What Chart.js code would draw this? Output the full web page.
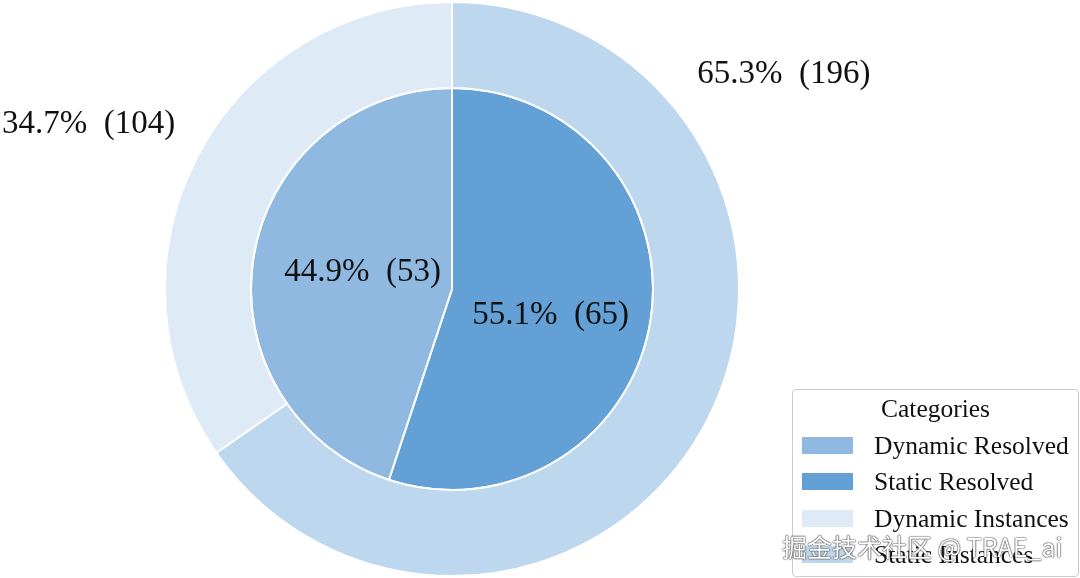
<!DOCTYPE html>
<html>
<head>
<meta charset="utf-8">
<script src="https://cdn.jsdelivr.net/npm/chart.js@4.4.1/dist/chart.umd.min.js"></script>
<style>
  html, body { margin: 0; padding: 0; background: #ffffff; }
  #wrap { position: relative; width: 1080px; height: 578px; overflow: hidden; }
  #c { position: absolute; left: 0; top: 0; }
  #legend {
    position: absolute; left: 792px; top: 389px; width: 285px; height: 186px;
    border: 1px solid #cccccc; border-radius: 4px; background: rgba(255,255,255,0.85);
    font-family: "Liberation Serif", "Times New Roman", serif; color: #111;
  }
  #legend .title { position: absolute; left: 0; width: 100%; top: 6px; text-align: center; font-size: 25.5px; line-height: 25px; }
  #legend .row { position: absolute; left: 9px; height: 36px; display: flex; align-items: center; }
  #legend .sw { width: 51px; height: 17px; margin-right: 21px; }
  #legend .lab { font-size: 25.5px; line-height: 25px; white-space: nowrap; }
  #wm {
    position: absolute; left: 782px; top: 529px; font-family: "Noto Sans CJK SC", sans-serif;
    font-size: 25px; line-height: 34px; color: #ffffff; white-space: pre;
    text-shadow: 0 0 1px #333, 0 0 1px #333, 0 0 2px #666;
  }
</style>
</head>
<body>
<div id="wrap">
  <canvas id="c" width="1080" height="578"></canvas>
  <div id="legend"></div>
  <div id="wm">掘金技术社区 @ TRAE_ai</div>
</div>
<script>
// ---- data ----
const outerLabels = ["Static Instances", "Dynamic Instances"];
const outerValues = [196, 104];
const innerLabels = ["Static Resolved", "Dynamic Resolved"];
const innerValues = [65, 53];
const outerColors = ["#bdd7ee", "#deeaf6"];
const innerColors = ["#62a0d6", "#8fb9e0"];
const legendTitle = "Categories";
const legendOrder = ["Dynamic Resolved", "Static Resolved", "Dynamic Instances", "Static Instances"];

// label placement: fraction along wedge angle, and radius factor relative to ring outer radius
const labelPlacement = [
  [{f: 0.243, r: 1.376}, {f: 0.474, r: 1.39}],   // outer ring
  [{f: 0.528, r: 0.507}, {f: 0.51, r: 0.453}]    // inner pie
];

const pctLabels = {
  id: 'pctLabels',
  afterDatasetsDraw(chart) {
    const ctx = chart.ctx;
    ctx.save();
    ctx.font = '33px "Liberation Serif", "Times New Roman", serif';
    ctx.fillStyle = '#111111';
    ctx.textAlign = 'center';
    ctx.textBaseline = 'middle';
    chart.data.datasets.forEach((ds, di) => {
      const meta = chart.getDatasetMeta(di);
      const total = ds.data.reduce((a, b) => a + b, 0);
      meta.data.forEach((arc, i) => {
        const p = arc.getProps(['x', 'y', 'startAngle', 'endAngle', 'outerRadius'], true);
        const pl = labelPlacement[di][i];
        const a = p.startAngle + pl.f * (p.endAngle - p.startAngle);
        const r = pl.r * p.outerRadius;
        const x = p.x + r * Math.cos(a);
        const y = p.y + r * Math.sin(a);
        const v = ds.data[i];
        const txt = (v / total * 100).toFixed(1) + '%  (' + v + ')';
        ctx.fillText(txt, x, y);
      });
    });
    ctx.restore();
  }
};

new Chart(document.getElementById('c'), {
  type: 'doughnut',
  data: {
    labels: outerLabels,
    datasets: [
      { label: 'Instances', data: outerValues, backgroundColor: outerColors, borderColor: '#ffffff', borderWidth: 2, weight: 86, hoverOffset: 0, offset: 0 },
      { label: 'Resolved', data: innerValues, backgroundColor: innerColors, borderColor: '#ffffff', borderWidth: 2, weight: 201, hoverOffset: 0, offset: 0 }
    ]
  },
  options: {
    responsive: false,
    animation: false,
    events: [],
    cutout: 0,
    layout: { padding: { left: 164, right: 340, top: 1, bottom: 1 } },
    plugins: { legend: { display: false }, tooltip: { enabled: false } }
  },
  plugins: [pctLabels]
});

// ---- legend (HTML) ----
const colorOf = {};
outerLabels.forEach((l, i) => colorOf[l] = outerColors[i]);
innerLabels.forEach((l, i) => colorOf[l] = innerColors[i]);
const lg = document.getElementById('legend');
const t = document.createElement('div');
t.className = 'title'; t.textContent = legendTitle; lg.appendChild(t);
legendOrder.forEach((name, i) => {
  const row = document.createElement('div');
  row.className = 'row';
  row.style.top = (37 + i * 36.5) + 'px';
  const sw = document.createElement('div'); sw.className = 'sw'; sw.style.background = colorOf[name];
  const lab = document.createElement('div'); lab.className = 'lab'; lab.textContent = name;
  row.appendChild(sw); row.appendChild(lab); lg.appendChild(row);
});
</script>
</body>
</html>
